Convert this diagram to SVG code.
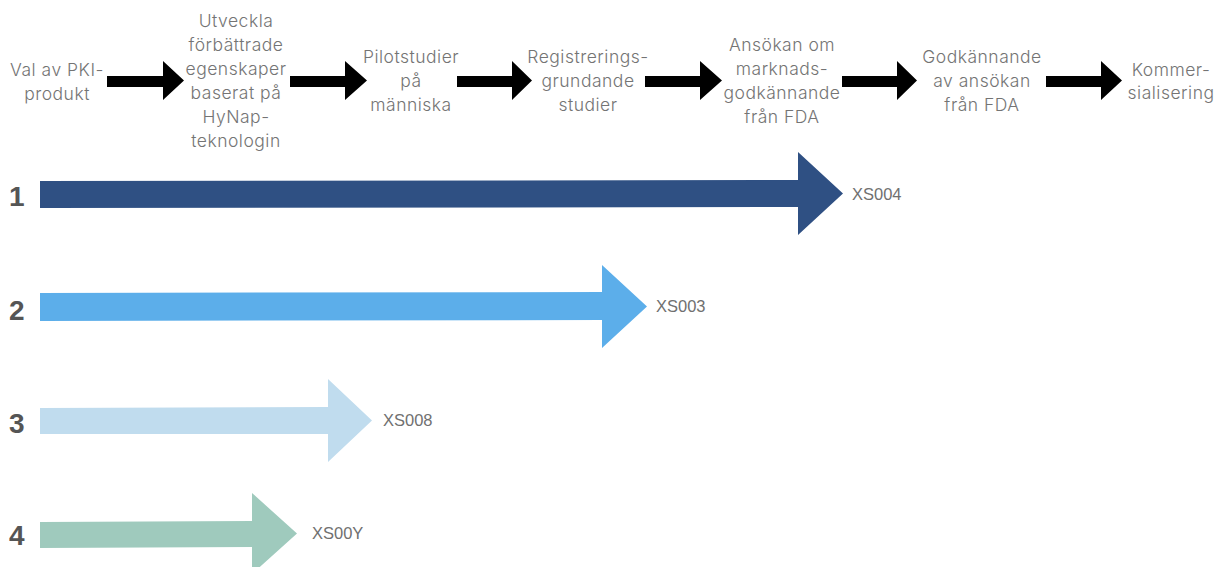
<svg xmlns="http://www.w3.org/2000/svg" width="1223" height="567" viewBox="0 0 1223 567">
<defs>
<style>
.step{font-family:"Inter","Open Sans","Liberation Sans",sans-serif;font-weight:300;font-size:17.5px;letter-spacing:0.5px;fill:#747474;text-anchor:middle}
.num{font-family:"Liberation Sans",Arial,sans-serif;font-weight:bold;font-size:28px;fill:#555555}
.lbl{font-family:"Liberation Sans",Arial,sans-serif;font-size:16.5px;fill:#707070}
.flow{fill:#000000}
</style>
</defs>
<rect width="1223" height="567" fill="#ffffff"/>
<g id="step1"><text class="step"><tspan x="57" y="76">Val av PKI-</tspan><tspan x="57" y="100">produkt</tspan></text></g>
<g id="step2"><text class="step"><tspan x="236" y="27">Utveckla</tspan><tspan x="236" y="51">förbättrade</tspan><tspan x="236" y="75">egenskaper</tspan><tspan x="236" y="99">baserat på</tspan><tspan x="236" y="123">HyNap-</tspan><tspan x="236" y="147">teknologin</tspan></text></g>
<g id="step3"><text class="step"><tspan x="411" y="63">Pilotstudier</tspan><tspan x="411" y="87">på</tspan><tspan x="411" y="111">människa</tspan></text></g>
<g id="step4"><text class="step"><tspan x="588" y="63">Registrerings-</tspan><tspan x="588" y="87">grundande</tspan><tspan x="588" y="111">studier</tspan></text></g>
<g id="step5"><text class="step"><tspan x="782" y="51">Ansökan om</tspan><tspan x="782" y="75">marknads-</tspan><tspan x="782" y="99">godkännande</tspan><tspan x="782" y="123">från FDA</tspan></text></g>
<g id="step6"><text class="step"><tspan x="982" y="63">Godkännande</tspan><tspan x="982" y="87">av ansökan</tspan><tspan x="982" y="111">från FDA</tspan></text></g>
<g id="step7"><text class="step"><tspan x="1171" y="76">Kommer-</tspan><tspan x="1171" y="99">sialisering</tspan></text></g>
<g id="connectors">
<polygon class="flow" points="107,76 163,76 163,61 184,80.5 163,100 163,87 107,87"/>
<polygon class="flow" points="290,76 345,76 345,61 367,80.5 345,100 345,87 290,87"/>
<polygon class="flow" points="457,76 512,76 512,61 532,80.5 512,100 512,87 457,87"/>
<polygon class="flow" points="645,76 700,76 700,61 722,80.5 700,100 700,87 645,87"/>
<polygon class="flow" points="842,76 897,76 897,61 917,80.5 897,100 897,87 842,87"/>
<polygon class="flow" points="1046,76 1101,76 1101,61 1122,80.5 1101,100 1101,87 1046,87"/>
</g>
<g id="row1">
<text class="num" x="9" y="206">1</text>
<polygon fill="#2f5083" points="40,181 798,180 798,152 843,193.5 798,235 798,207 40,208"/>
<text class="lbl" x="852" y="200">XS004</text>
</g>
<g id="row2">
<text class="num" x="9" y="320">2</text>
<polygon fill="#5caeea" points="40,293 602,292 602,265 647,306.5 602,348 602,320 40,321"/>
<text class="lbl" x="656" y="312">XS003</text>
</g>
<g id="row3">
<text class="num" x="9" y="433">3</text>
<polygon fill="#c0dcee" points="40,408 328,407 328,379 372,420.5 328,462 328,434 40,434"/>
<text class="lbl" x="383" y="426">XS008</text>
</g>
<g id="row4">
<text class="num" x="9" y="545">4</text>
<polygon fill="#9fcabd" points="40,522 252,521 252,493 297,533.5 252,574 252,547 40,548"/>
<text class="lbl" x="312" y="539">XS00Y</text>
</g>
</svg>
